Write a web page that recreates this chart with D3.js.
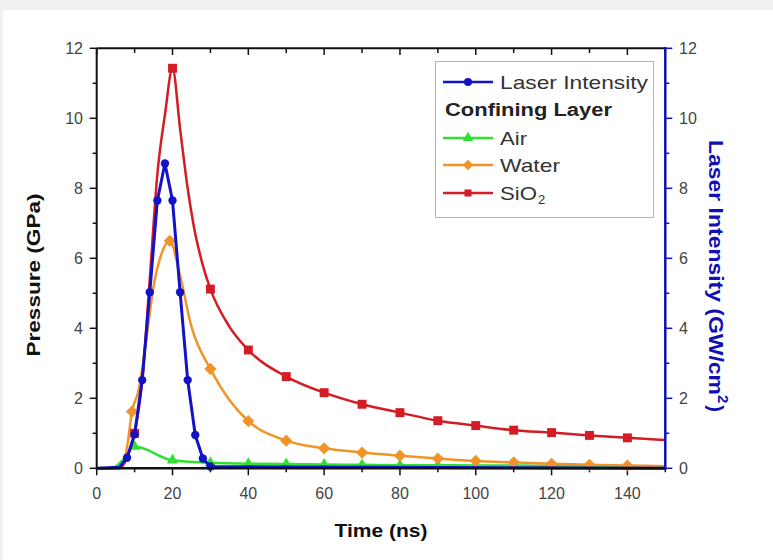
<!DOCTYPE html>
<html>
<head>
<meta charset="utf-8">
<script src="https://cdn.jsdelivr.net/npm/d3@7"></script>
<style>
  body { margin: 0; background: #f1f1f1; }
  text { font-family: "Liberation Sans", Arial, sans-serif; }
</style>
</head>
<body>
<svg id="chart" width="773" height="560"></svg>
<script>
// datos
const xTicks = [0, 20, 40, 60, 80, 100, 120, 140];
const yTicks = [0, 2, 4, 6, 8, 10, 12];

const laserTime  = [0, 6, 8, 10, 12, 14, 16, 18, 20, 22, 24, 26, 28, 30, 150];
const laserValue = [0, 0.03, 0.3, 0.97, 2.52, 5.03, 7.65, 8.71, 7.65, 5.03, 2.52, 0.95, 0.28, 0.05, 0];
const laserMarks = [8, 10, 12, 14, 16, 18, 20, 22, 24, 26, 28, 30];

const airTime  = [0, 4, 7, 10, 20, 30, 40, 50, 60, 70, 80, 90, 100, 110, 120, 130, 140, 150];
const airValue = [0, 0, 0.25, 0.62, 0.23, 0.16, 0.13, 0.12, 0.11, 0.10, 0.09, 0.09, 0.08, 0.08, 0.07, 0.07, 0.06, 0.06];
const airMarks = [10, 20, 30, 40, 50, 60, 70, 80, 90, 100, 110, 120, 130, 140];

const waterTime  = [0, 6, 8, 9.3, 11, 13, 15, 17, 19.3, 22, 25, 30, 35, 40, 50, 60, 70, 80, 90, 100, 110, 120, 130, 140, 150];
const waterValue = [0, 0, 0.6, 1.62, 2.2, 3.6, 5.2, 6.1, 6.5, 5.5, 4.05, 2.84, 1.95, 1.35, 0.79, 0.57, 0.45, 0.36, 0.28, 0.21, 0.17, 0.13, 0.1, 0.08, 0.06];
const waterMarks = [9.3, 19.3, 30, 40, 50, 60, 70, 80, 90, 100, 110, 120, 130, 140];

const sio2Time  = [0, 6, 8, 10, 12, 14, 16, 18, 20, 22, 24, 26, 28, 30, 35, 40, 50, 60, 70, 80, 90, 100, 110, 120, 130, 140, 150];
const sio2Value = [0, 0, 0.3, 1.0, 2.5, 5.4, 8.4, 10.1, 11.43, 9.7, 8.0, 6.7, 5.8, 5.12, 4.05, 3.38, 2.62, 2.16, 1.83, 1.59, 1.36, 1.22, 1.09, 1.02, 0.94, 0.87, 0.81];
const sio2Marks = [10, 20, 30, 40, 50, 60, 70, 80, 90, 100, 110, 120, 130, 140];

let svg = d3.select("#chart");

// fondo blanco de la tarjeta
svg.append("rect").attr("x", 3).attr("y", 10).attr("width", 770).attr("height", 550).attr("fill", "#fff");

let x = d3.scaleLinear().domain([0, 150]).range([96.7, 665.3]);
let y = d3.scaleLinear().domain([0, 12]).range([468.3, 48.3]);

const blue = "#1212c6", axisBlue = "#1010b4";
const green = "#30e030", orange = "#f0942a", red = "#d41c24";

// ticks menores
let minorX = d3.range(0, 151, 10);
let minorY = d3.range(0, 13, 1);

// eje inferior
let gx = svg.append("g").attr("transform", "translate(0,468.3)");
gx.selectAll("line").data(minorX).enter().append("line")
    .attr("x1", d => x(d)).attr("x2", d => x(d))
    .attr("y1", 0).attr("y2", d => d % 20 === 0 ? 7 : 4)
    .attr("stroke", "#111").attr("stroke-width", 1.5);
gx.selectAll("text").data(xTicks).enter().append("text")
    .attr("x", d => x(d)).attr("y", 31)
    .attr("text-anchor", "middle").attr("font-size", 16).attr("fill", "#444")
    .text(d => d);

// eje superior (ticks hacia dentro)
svg.append("g").selectAll("line").data(minorX).enter().append("line")
    .attr("x1", d => x(d)).attr("x2", d => x(d))
    .attr("y1", 48.3).attr("y2", d => d % 20 === 0 ? 55 : 53)
    .attr("stroke", "#111").attr("stroke-width", 1.5);

// eje izquierdo
let gy = svg.append("g");
gy.selectAll("line").data(minorY).enter().append("line")
    .attr("x1", x(0)).attr("x2", d => d % 2 === 0 ? x(0) - 7 : x(0) - 4)
    .attr("y1", d => y(d)).attr("y2", d => y(d))
    .attr("stroke", "#111").attr("stroke-width", 1.5);
gy.selectAll("text").data(yTicks).enter().append("text")
    .attr("x", 83).attr("y", d => y(d) + 6)
    .attr("text-anchor", "end").attr("font-size", 16).attr("fill", "#444")
    .text(d => d);

// eje derecho (azul)
let gr = svg.append("g");
gr.selectAll("line").data(minorY).enter().append("line")
    .attr("x1", x(150)).attr("x2", d => d % 2 === 0 ? x(150) + 7 : x(150) + 4)
    .attr("y1", d => y(d)).attr("y2", d => y(d))
    .attr("stroke", axisBlue).attr("stroke-width", 1.5);
gr.selectAll("text").data(yTicks).enter().append("text")
    .attr("x", 679).attr("y", d => y(d) + 6)
    .attr("font-size", 16).attr("fill", "#444")
    .text(d => d);

// series
function serie(times, values, marks, color, width, symbol, size, curve) {
    let pts = times.map((t, i) => [t, values[i]]);
    let line = d3.line().x(d => x(d[0])).y(d => y(d[1])).curve(curve);
    svg.append("path").datum(pts)
        .attr("d", line).attr("fill", "none")
        .attr("stroke", color).attr("stroke-width", width)
        .attr("stroke-linejoin", "round");
    svg.append("g").selectAll("path")
        .data(pts.filter(d => marks.includes(d[0])))
        .enter().append("path")
        .attr("d", d3.symbol().type(symbol).size(size))
        .attr("transform", d => "translate(" + x(d[0]) + "," + y(d[1]) + ")")
        .attr("fill", color);
}

const diamond = d3.symbolDiamond2 || d3.symbolDiamond;

serie(airTime, airValue, airMarks, green, 2.5, d3.symbolTriangle, 55, d3.curveMonotoneX);
serie(waterTime, waterValue, waterMarks, orange, 2.5, diamond, 95, d3.curveMonotoneX);
serie(sio2Time, sio2Value, sio2Marks, red, 2.5, d3.symbolSquare, 80, d3.curveMonotoneX);
serie(laserTime, laserValue, laserMarks, blue, 3, d3.symbolCircle, 55, d3.curveLinear);

// lineas de ejes
svg.append("line").attr("x1", x(0)).attr("x2", x(150)).attr("y1", 48.3).attr("y2", 48.3)
    .attr("stroke", "#111").attr("stroke-width", 2);
svg.append("line").attr("x1", x(0)).attr("x2", x(150)).attr("y1", 468.3).attr("y2", 468.3)
    .attr("stroke", "#111").attr("stroke-width", 2.5);
svg.append("line").attr("x1", x(0)).attr("x2", x(0)).attr("y1", 48.3).attr("y2", 469.5)
    .attr("stroke", "#111").attr("stroke-width", 2);
svg.append("line").attr("x1", x(150)).attr("x2", x(150)).attr("y1", 47).attr("y2", 469.5)
    .attr("stroke", axisBlue).attr("stroke-width", 2.5);

// titulos
svg.append("text").attr("x", 381).attr("y", 537).attr("text-anchor", "middle")
    .attr("font-size", 19).attr("font-weight", "bold").attr("fill", "#111")
    .attr("textLength", 93).attr("lengthAdjust", "spacingAndGlyphs")
    .text("Time (ns)");

svg.append("text").attr("transform", "translate(40,275) rotate(-90)")
    .attr("text-anchor", "middle").attr("font-size", 19).attr("font-weight", "bold").attr("fill", "#111")
    .attr("textLength", 163).attr("lengthAdjust", "spacingAndGlyphs")
    .text("Pressure (GPa)");

let rt = svg.append("text").attr("transform", "translate(709,140) rotate(90)")
    .attr("font-size", 20).attr("font-weight", "bold").attr("fill", axisBlue);
rt.append("tspan").attr("textLength", 255).attr("lengthAdjust", "spacingAndGlyphs").text("Laser Intensity (GW/cm");
rt.append("tspan").attr("dy", -9).attr("font-size", 15).text("2");
rt.append("tspan").attr("dy", 9).attr("dx", 2).text(")");

// leyenda
let lg = svg.append("g");
lg.append("rect").attr("x", 435.5).attr("y", 61.5).attr("width", 218).attr("height", 156)
    .attr("fill", "#fff").attr("stroke", "#b4b4b4").attr("stroke-width", 1);

const legendNames  = ["Laser Intensity", "Air", "Water", "SiO"];
const legendColors = [blue, green, orange, red];
const legendSymbols = [d3.symbolCircle, d3.symbolTriangle, diamond, d3.symbolSquare];
const legendSizes = [50, 50, 70, 50];
const legendY = [82, 138, 165, 193];
const legendWidths = [148, 27, 60, 37];

legendNames.forEach((name, i) => {
    lg.append("line").attr("x1", 443).attr("x2", 493).attr("y1", legendY[i]).attr("y2", legendY[i])
        .attr("stroke", legendColors[i]).attr("stroke-width", 2.5);
    lg.append("path").attr("d", d3.symbol().type(legendSymbols[i]).size(legendSizes[i])())
        .attr("transform", "translate(468," + legendY[i] + ")").attr("fill", legendColors[i]);
    lg.append("text").attr("x", 500).attr("y", legendY[i] + 7)
        .attr("font-size", 19).attr("fill", "#333")
        .attr("textLength", legendWidths[i]).attr("lengthAdjust", "spacingAndGlyphs")
        .text(name);
});
lg.append("text").attr("x", 538).attr("y", 204).attr("font-size", 13).attr("fill", "#333").text("2");
lg.append("text").attr("x", 445).attr("y", 116).attr("font-size", 18).attr("font-weight", "bold")
    .attr("fill", "#222").attr("textLength", 167).attr("lengthAdjust", "spacingAndGlyphs")
    .text("Confining Layer");
</script>
</body>
</html>
